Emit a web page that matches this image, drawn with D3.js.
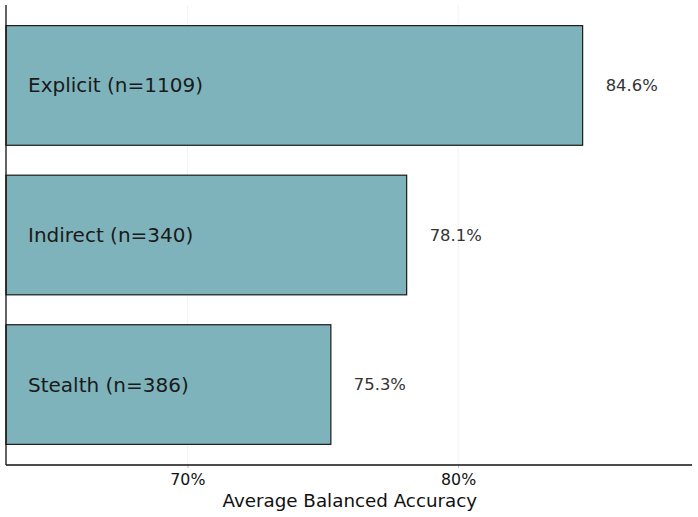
<!DOCTYPE html>
<html><head><meta charset="utf-8">
<script src="https://cdn.jsdelivr.net/npm/d3@7"></script>
<style>body{margin:0;background:#fff}svg{display:block}text{font-family:"DejaVu Sans",sans-serif}</style>
</head><body>
<script>
const categories = ["Explicit (n=1109)", "Indirect (n=340)", "Stealth (n=386)"];
const values = [84.6, 78.1, 75.3];
const tickValues = [70, 80];
const tickLabels = ["70%", "80%"];
const xLabel = "Average Balanced Accuracy";

(function () {
const W = 698, H = 517;
const mLeft = 6, mRight = 692, mTop = 5, mBottom = 465;
const svg = d3.select("body").append("svg").attr("width", W).attr("height", H);

const x = d3.scaleLinear().domain([63.3, 88.64]).range([mLeft, mRight]);
const y = d3.scaleBand().domain(categories).range([mTop, mBottom]).paddingInner(0.2).paddingOuter(0.138);

// gridlines
svg.append("g").selectAll("line").data(tickValues).join("line")
  .attr("x1", d => x(d)).attr("x2", d => x(d)).attr("y1", mTop).attr("y2", mBottom)
  .attr("stroke", "#f2f2f2").attr("stroke-width", 1);

// bars
svg.append("g").selectAll("rect").data(categories).join("rect")
  .attr("x", mLeft).attr("y", d => y(d))
  .attr("width", (d, i) => x(values[i]) - mLeft).attr("height", y.bandwidth())
  .attr("fill", "#7fb3bc").attr("stroke", "#1a1a1a").attr("stroke-width", 1.2);

// category labels
svg.append("g").selectAll("text").data(categories).join("text")
  .attr("x", 28).attr("y", d => y(d) + y.bandwidth() / 2)
  .attr("dominant-baseline", "central").attr("font-size", 20).attr("fill", "#1a1a1a")
  .text(d => d);

// value labels
svg.append("g").selectAll("text").data(categories).join("text")
  .attr("x", (d, i) => x(values[i] + 0.85)).attr("y", d => y(d) + y.bandwidth() / 2)
  .attr("dominant-baseline", "central").attr("font-size", 16.4).attr("fill", "#333")
  .text((d, i) => values[i].toFixed(1) + "%");

// x axis
const xAxis = d3.axisBottom(x).tickValues(tickValues).tickFormat((d, i) => tickLabels[i]).tickSize(3).tickPadding(6);
const gx = svg.append("g").attr("transform", `translate(0,${mBottom})`).call(xAxis);
gx.select(".domain").remove();
gx.selectAll(".tick line").attr("stroke", "#bbb");
gx.selectAll(".tick text").attr("font-size", 15.8).attr("fill", "#111").attr("font-family", "DejaVu Sans");

// spines
svg.append("line").attr("x1", mLeft).attr("x2", mRight).attr("y1", mBottom).attr("y2", mBottom)
  .attr("stroke", "#111").attr("stroke-width", 1.3);
svg.append("line").attr("x1", mLeft).attr("x2", mLeft).attr("y1", mTop).attr("y2", mBottom)
  .attr("stroke", "#111").attr("stroke-width", 1.3);

svg.append("text").attr("x", x(76)).attr("y", 507).attr("text-anchor", "middle")
  .attr("font-size", 18.3).attr("fill", "#111").text(xLabel);
})();
</script>
</body></html>
